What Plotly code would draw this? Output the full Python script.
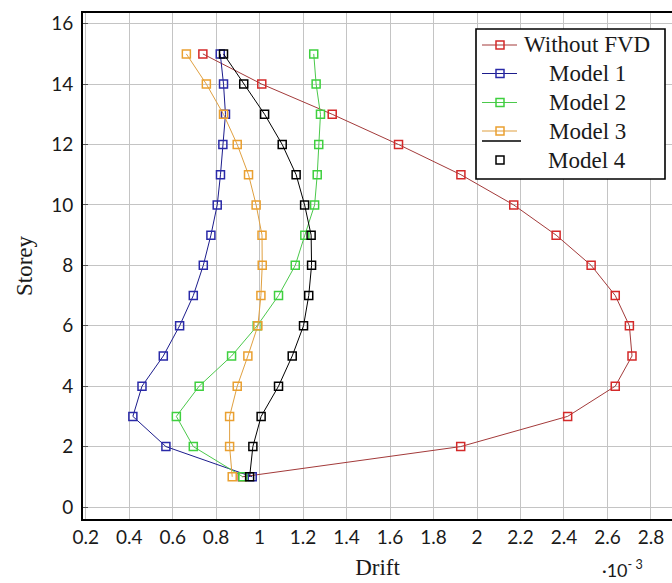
import plotly.graph_objects as go

# ---------------- data ----------------
storeys = [1, 2, 3, 4, 5, 6, 7, 8, 9, 10, 11, 12, 13, 14, 15]
without_fvd = [0.92, 1.925, 2.417, 2.636, 2.713, 2.701, 2.636, 2.525, 2.364, 2.169, 1.926, 1.639, 1.334, 1.010, 0.739]
model_1 = [0.966, 0.569, 0.417, 0.459, 0.557, 0.632, 0.695, 0.741, 0.776, 0.805, 0.820, 0.831, 0.843, 0.834, 0.819]
model_2 = [0.923, 0.695, 0.617, 0.722, 0.871, 0.989, 1.087, 1.164, 1.208, 1.253, 1.265, 1.272, 1.280, 1.260, 1.249]
model_3 = [0.874, 0.862, 0.862, 0.897, 0.946, 0.992, 1.006, 1.012, 1.011, 0.984, 0.949, 0.897, 0.834, 0.755, 0.663]
model_4 = [0.954, 0.969, 1.007, 1.087, 1.150, 1.202, 1.226, 1.239, 1.237, 1.207, 1.168, 1.104, 1.023, 0.927, 0.834]

series_names = ["Without FVD", "Model 1", "Model 2", "Model 3", "Model 4"]
series_values = [without_fvd, model_1, model_2, model_3, model_4]
line_colors = ["#a33a3a", "#1c1c8c", "#4bc94b", "#e0a040", "#000000"]
marker_colors = ["#d42a2a", "#2a2aa8", "#3fd03f", "#eaa030", "#000000"]

x_ticks = [0.2, 0.4, 0.6, 0.8, 1.0, 1.2, 1.4, 1.6, 1.8, 2.0, 2.2, 2.4, 2.6, 2.8]
x_tick_labels = ["0.2", "0.4", "0.6", "0.8", "1", "1.2", "1.4", "1.6", "1.8", "2", "2.2", "2.4", "2.6", "2.8"]
y_ticks = [0, 2, 4, 6, 8, 10, 12, 14, 16]

# ---------------- layout geometry ----------------
W, H = 672, 583
ML, MR, MT, MB = 83, 0, 13, 64
PW, PH = W - ML - MR, H - MT - MB


def px(xp):
    return (xp - ML) / PW


def py(yp):
    return (H - MB - yp) / PH


fig = go.Figure()
for name, vals, lc, mc in zip(series_names, series_values, line_colors, marker_colors):
    fig.add_trace(go.Scatter(
        x=vals, y=storeys, name=name, mode="lines+markers",
        line=dict(color=lc, width=1),
        marker=dict(symbol="square-open", size=8, color=mc, line=dict(width=1.5, color=mc)),
        showlegend=False,
    ))

tick_font = dict(family="Lato, Carlito, sans-serif", size=19, color="#1a1a1a")
serif = "Liberation Serif, Times New Roman, serif"

fig.update_layout(
    width=W, height=H,
    margin=dict(l=ML, r=MR, t=MT, b=MB, pad=0),
    paper_bgcolor="white", plot_bgcolor="white",
    xaxis=dict(
        range=[0.1876, 2.897], tickmode="array", tickvals=x_ticks, ticktext=x_tick_labels,
        showgrid=True, gridcolor="#c4c4c4", gridwidth=1,
        showline=True, linecolor="black", linewidth=1.6, mirror=True,
        ticks="", tickfont=tick_font, zeroline=False,
        title=dict(text="Drift", font=dict(family=serif, size=23, color="#1a1a1a"), standoff=12),
    ),
    yaxis=dict(
        range=[-0.397, 16.354], tickmode="array", tickvals=y_ticks,
        showgrid=True, gridcolor="#c4c4c4", gridwidth=1,
        showline=True, linecolor="black", linewidth=1.6, mirror=False,
        ticks="inside", ticklen=5, tickcolor="#555555", tickfont=tick_font, zeroline=False,
        ticklabelstandoff=4,
        title=dict(text="Storey", font=dict(family=serif, size=23, color="#1a1a1a"), standoff=12),
    ),
)

# exponent annotation
fig.add_annotation(x=px(622), y=py(582), xref="paper", yref="paper",
                   text="·10<sup>- 3</sup>", showarrow=False, borderpad=0,
                   font=dict(family="Lato, sans-serif", size=18, color="#1a1a1a"),
                   xanchor="center", yanchor="bottom")

# ---------------- custom legend ----------------
box = dict(x0=px(476), x1=px(665), y0=py(179), y1=py(29))
fig.add_shape(type="rect", xref="paper", yref="paper", **box,
              line=dict(color="black", width=1.6), fillcolor="white", layer="above")
row_y = [45, 73.5, 102.5, 131, 160]
for i, (name, lc, mc) in enumerate(zip(series_names, line_colors, marker_colors)):
    yy = py(row_y[i])
    if i < 4:
        fig.add_shape(type="line", xref="paper", yref="paper",
                      x0=px(482), x1=px(517), y0=yy, y1=yy,
                      line=dict(color=lc, width=1.2), layer="above")
    fig.add_shape(type="rect", xref="paper", yref="paper",
                  xsizemode="pixel", ysizemode="pixel",
                  xanchor=px(500), yanchor=yy, x0=-4, x1=4, y0=-4, y1=4,
                  line=dict(color=mc, width=1.5), fillcolor="rgba(0,0,0,0)", layer="above")
    fig.add_annotation(x=px(587), y=yy, xref="paper", yref="paper", text=name,
                       showarrow=False, xanchor="center", yanchor="middle",
                       font=dict(family=serif, size=23, color="#1a1a1a"))
# stray black line under the Model 3 entry (as in the original legend)
fig.add_shape(type="line", xref="paper", yref="paper",
              x0=px(482), x1=px(521), y0=py(141), y1=py(141),
              line=dict(color="black", width=1.4), layer="above")

fig.write_html("out.html")
